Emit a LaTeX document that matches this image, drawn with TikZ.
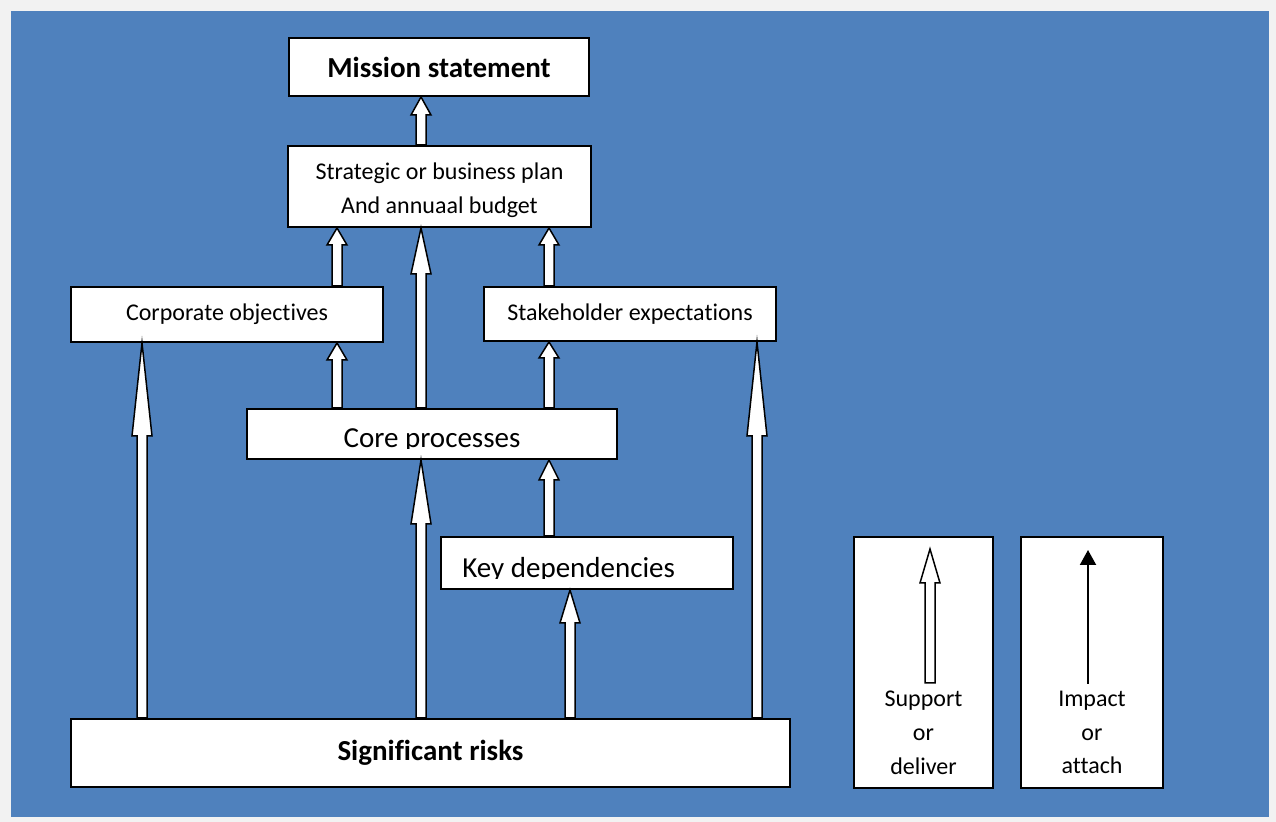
\documentclass[tikz,border=0pt]{standalone}
\usepackage{fontspec}
\setmainfont{Carlito}[Ligatures=NoCommon]
\usetikzlibrary{calc}
\usetikzlibrary{arrows.meta}
\definecolor{slideblue}{RGB}{79,129,189}
\definecolor{pagegray}{RGB}{242,242,242}

\tikzset{
  box/.style={draw=black, fill=white, line width=1pt, inner sep=0pt, align=center,
    font=\fontsize{12}{16.5}\selectfont},
  boldbox/.style={box, font=\fontsize{14.5}{18}\selectfont\bfseries},
  txt/.style={inner sep=0pt, align=center, font=\fontsize{12}{16.8}\selectfont},
  bigtxt/.style={inner sep=0pt, font=\fontsize{14.5}{18}\selectfont},
  fatarrow/.style={draw=black, fill=white, line width=0.75pt, line join=miter,
    to path={let \p1=(\tikztostart), \p2=(\tikztotarget) in
      (\x1-2.5pt,\y1) -- (\x1-2.5pt,\y2-#1) -- (\x1-5pt,\y2-#1) -- (\x1,\y2)
      -- (\x1+5pt,\y2-#1) -- (\x1+2.5pt,\y2-#1) -- (\x1+2.5pt,\y1) -- cycle}}
}

\begin{document}
\begin{tikzpicture}[x=0.5pt, y=-0.5pt]
% slide background
\fill[pagegray] (0,0) rectangle (1276,822);
\fill[slideblue] (11,11) rectangle (1269,817);

% boxes
\node[boldbox, minimum width=150pt, minimum height=29pt] (mission) at (439,67) {Mission statement};
\node[box, minimum width=151.5pt, minimum height=40.5pt] (strategic) at (439.5,186.5) {};
\node[txt] (strattext) at ([yshift=-2pt]strategic.center) {Strategic or business plan\\And annuaal budget};
\node[box, minimum width=156pt, minimum height=27.5pt] (corp) at (227,314.5) {Corporate objectives};
\node[box, minimum width=146pt, minimum height=27pt] (stake) at (630,314) {Stakeholder expectations};
\node[box, minimum width=185pt, minimum height=25pt] (core) at (432,434) {};
\node[box, minimum width=146pt, minimum height=26pt] (key) at (587,563) {};
\node[boldbox, minimum width=359.5pt, minimum height=34pt] (risks) at (430.5,753) {Significant risks};

% text frames cut off at the baseline
\begin{scope}
\clip (core.north west) rectangle ([yshift=5.5pt]core.south east);
\node[bigtxt, anchor=base] (coretext) at ([yshift=6pt]core.south) {Core processes};
\end{scope}
\begin{scope}
\clip (key.north west) rectangle ([yshift=5.5pt]key.south east);
\node[bigtxt, anchor=base west] (keytext) at ([xshift=11pt, yshift=6pt]key.south west) {Key dependencies};
\end{scope}

% arrow columns
\coordinate (colA) at (142,0);
\coordinate (colB) at (337,0);
\coordinate (colC) at (421,0);
\coordinate (colD) at (549,0);
\coordinate (colE) at (570,0);
\coordinate (colF) at (757,0);

\foreach \from/\to/\col/\head in {strategic/mission/colC/9pt, corp/strategic/colB/8.5pt,
    core/strategic/colC/23pt, stake/strategic/colD/8.5pt, core/corp/colB/8.5pt,
    core/stake/colD/8pt, key/core/colD/10pt, risks/key/colE/16.5pt,
    risks/core/colC/32pt, risks/corp/colA/46.5pt, risks/stake/colF/47pt} {
  \draw[fatarrow=\head] (\from.north -| \col) to (\to.south -| \col);
}

% legend
\node[box, minimum width=69.5pt, minimum height=125.5pt] (leg1) at (923.5,662.5) {};
\node[box, minimum width=71pt, minimum height=125.5pt] (leg2) at (1092,662.5) {};
\coordinate (supfoot) at (930,683);
\coordinate (suptip) at (930,549);
\coordinate (impfoot) at (1088,684);
\coordinate (imptip) at (1088,550);
\draw[fatarrow=17pt] (supfoot) to (suptip);
\draw[line width=1pt, -{Triangle[length=7.5pt, width=8pt]}] (impfoot) -- (imptip);
\node[txt, anchor=north] (suptext) at ([yshift=-77.5pt]leg1.north) {Support\\or\\deliver};
\node[txt, anchor=north] (imptext) at ([yshift=-77.5pt]leg2.north) {Impact\\or\\attach};
\end{tikzpicture}
\end{document}
